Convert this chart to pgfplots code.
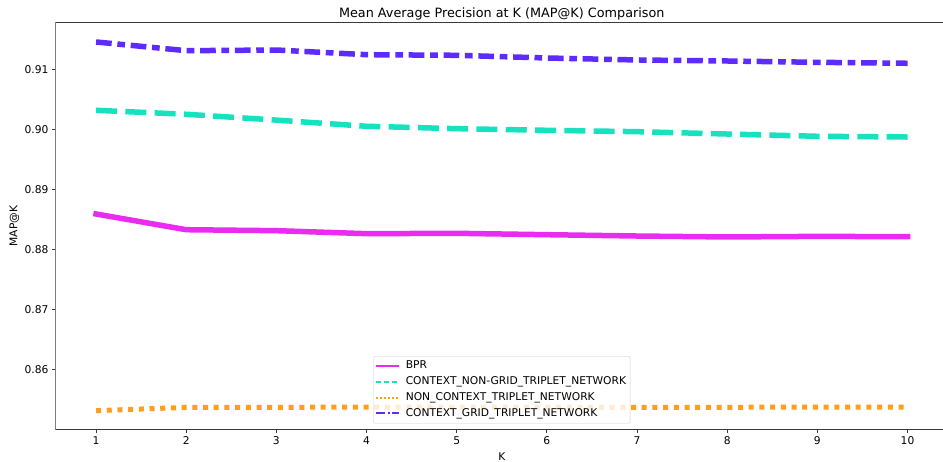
\documentclass[border=0pt]{standalone}
\usepackage{fontspec}
\setmainfont{DejaVu Sans}
\usepackage{pgfplots}
\pgfplotsset{compat=1.18}

\definecolor{bprC}{HTML}{E82CF0}
\definecolor{ngridC}{HTML}{17E2C0}
\definecolor{nctxC}{HTML}{FF9E1E}
\definecolor{gridC}{HTML}{5E2BFF}
\definecolor{spineC}{HTML}{3A3A3A}
\definecolor{frameC}{HTML}{CCCCCC}

% legend samples: thin line segments, 23pt long, built from coloured rules
\newcommand{\seg}[1]{\rule[-1pt]{#1}{2pt}}
\newcommand{\gap}[1]{\hspace*{#1}}
\newcommand{\sample}[2]{\node[anchor=west, inner sep=0pt, draw=none,
    text height=1pt, text depth=1pt] at (0pt,0pt)
    {\textcolor{#1}{#2}};}

\begin{document}
\begin{tikzpicture}
\begin{axis}[
  scale only axis,
  width=892.6pt, height=407pt,
  xmin=0.55, xmax=10.45,
  ymin=0.850033, ymax=0.917867,
  axis line style={draw=none},
  xtick={1,...,10},
  ytick={0.86,0.87,0.88,0.89,0.90,0.91},
  xtick pos=left, ytick pos=left,
  tick align=outside,
  major tick length=3.5pt,
  tick style={spineC, line width=0.8pt},
  /pgf/number format/assume math mode=true,
  yticklabel style={/pgf/number format/.cd, fixed, fixed zerofill, precision=2},
  ticklabel style={font=\fontsize{10.7}{12.8}\selectfont},
  title={Mean Average Precision at K (MAP@K) Comparison},
  every axis title shift=0pt,
  title style={font=\fontsize{12.8}{15.4}\selectfont, anchor=base, yshift=5.2pt},
  xlabel={K},
  xlabel style={font=\fontsize{10.7}{12.8}\selectfont, at={(axis description cs:0.5,0)}, anchor=base, yshift=-31pt},
  ylabel={MAP@K},
  ylabel style={font=\fontsize{10.7}{12.8}\selectfont, at={(axis description cs:0,0.5)}, anchor=center, yshift=41pt},
  legend cell align=left,
  legend style={at={(0.5,0.0148)}, anchor=south,
    draw=frameC, rounded corners=2pt, fill=white, fill opacity=0.8, text opacity=1,
    font=\fontsize{10.7}{12.8}\selectfont,
    inner xsep=2pt, inner ysep=1.9pt, column sep=5pt,
    nodes={draw=none, inner xsep=2pt, inner ysep=2.65pt, text height=8pt, text depth=2.5pt}},
]
% spines: left, bottom and top (the right one lies beyond the figure edge)
\draw[draw=spineC, line width=1.1pt, line cap=rect]
  (rel axis cs:1,1) -- (rel axis cs:0,1) -- (rel axis cs:0,0) -- (rel axis cs:1,0);
% BPR
\addplot[draw=bprC, line width=5.5pt, line cap=rect, line join=round,
  legend image code/.code={\sample{bprC}{\seg{23pt}}}]
  coordinates {
  (1,0.88595) (2,0.88333) (3,0.88317) (4,0.88267) (5,0.88273)
  (6,0.88250) (7,0.88228) (8,0.88212) (9,0.88222) (10,0.88217)};
\addlegendentry{BPR}
% CONTEXT_NON-GRID_TRIPLET_NETWORK
\addplot[draw=ngridC, line width=5.5pt, dash pattern=on 21pt off 8.3pt,
  legend image code/.code={\sample{ngridC}{\seg{5.5pt}\gap{2.4pt}\seg{5.5pt}\gap{2.4pt}\seg{5.5pt}\gap{1.7pt}}}]
  coordinates {
  (1,0.90323) (2,0.90257) (3,0.90160) (4,0.90057) (5,0.90017)
  (6,0.89990) (7,0.89967) (8,0.89928) (9,0.89890) (10,0.89878)};
\addlegendentry{CONTEXT\_NON-GRID\_TRIPLET\_NETWORK}
% NON_CONTEXT_TRIPLET_NETWORK
\addplot[draw=nctxC, line width=5pt, dash pattern=on 5pt off 5.7pt,
  legend image code/.code={\sample{nctxC}{\seg{2pt}\gap{2pt}\seg{2pt}\gap{2pt}\seg{2pt}\gap{2pt}\seg{2pt}\gap{2pt}\seg{2pt}\gap{2pt}\seg{2pt}\gap{1pt}}}]
  coordinates {
  (1,0.85317) (2,0.85372) (3,0.85372) (4,0.85378) (5,0.85378)
  (6,0.85375) (7,0.85372) (8,0.85373) (9,0.85378) (10,0.85378)};
\addlegendentry{NON\_CONTEXT\_TRIPLET\_NETWORK}
% CONTEXT_GRID_TRIPLET_NETWORK
\addplot[draw=gridC, line width=5.5pt, dash pattern=on 15.7pt off 5.7pt on 7.7pt off 5.7pt,
  legend image code/.code={\sample{gridC}{\seg{9.6pt}\gap{2.4pt}\seg{2pt}\gap{2.4pt}\seg{6.6pt}}}]
  coordinates {
  (1,0.91462) (2,0.91317) (3,0.91328) (4,0.91250) (5,0.91240)
  (6,0.91195) (7,0.91162) (8,0.91145) (9,0.91123) (10,0.91107)};
\addlegendentry{CONTEXT\_GRID\_TRIPLET\_NETWORK}
\end{axis}
% the figure ends just short of the right-hand spine
\pgfresetboundingbox
\path ([xshift=-55.5pt,yshift=-32.5pt]current axis.south west)
  rectangle ([xshift=887.5pt,yshift=22.5pt]current axis.north west);
\end{tikzpicture}
\end{document}
